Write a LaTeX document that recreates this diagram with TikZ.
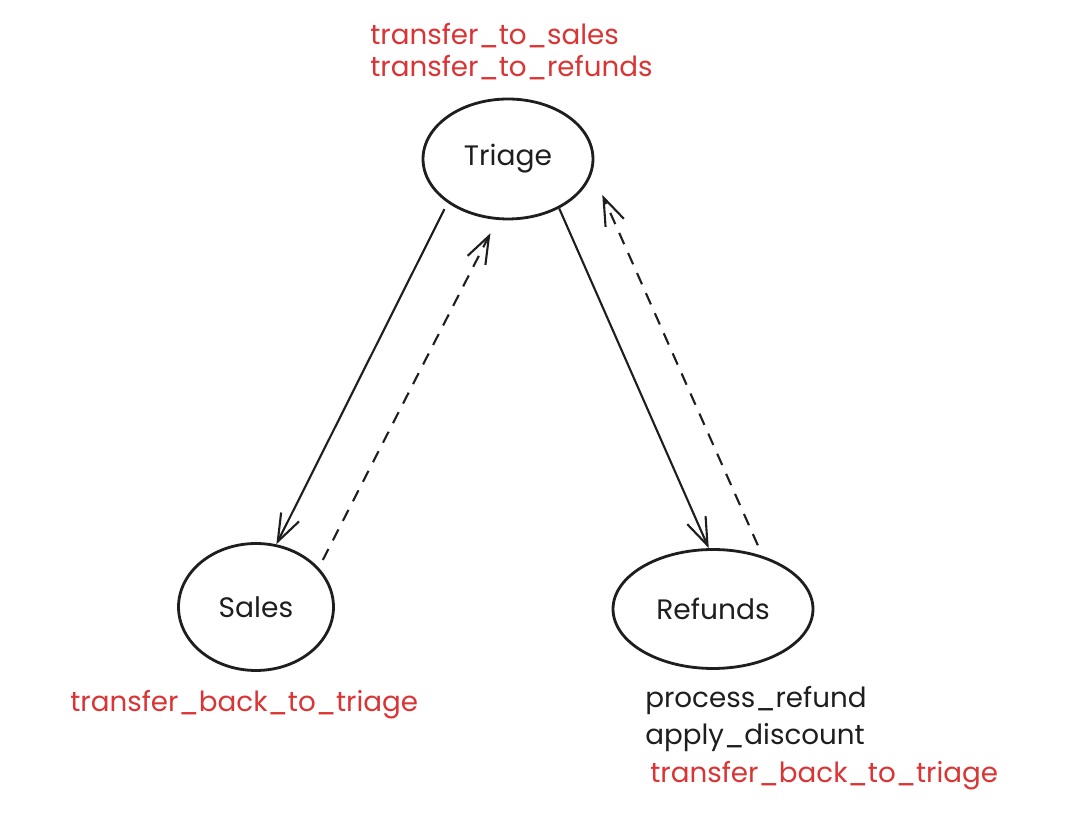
\documentclass[tikz,border=0pt]{standalone}
\usepackage{fontspec}
\setmainfont{Poppins}
\usepackage{xcolor}
\usetikzlibrary{shapes.geometric,arrows.meta}
\definecolor{tred}{RGB}{218,52,52}
\definecolor{ink}{RGB}{30,30,30}

\begin{document}
\begin{tikzpicture}[x=0.02cm,y=-0.02cm,
  agent/.style={ellipse,draw=ink,line width=1.6pt,inner sep=0pt,text=ink,font=\fontsize{16}{19}\selectfont},
  tool/.style={anchor=base west,inner sep=0pt,font=\fontsize{15.8}{19}\selectfont},
  handoff/.style={draw=ink,line width=1.2pt,-{Straight Barb[length=0.55cm,width=0.4cm]}},
  back/.style={handoff,dash pattern=on 7pt off 5.5pt}]
\useasboundingbox (0,0) rectangle (1080,830);
\node[agent,minimum width=3.4cm,minimum height=2.4cm] (triage) at (508,159) {Triage};
\node[agent,minimum width=3.1cm,minimum height=2.54cm] (sales) at (256,607) {Sales};
\node[agent,minimum width=4cm,minimum height=2.38cm] (refunds) at (713,609) {Refunds};
\draw [handoff,shorten <=4pt] (triage.216) -- (sales.72);
\draw [back,shorten <=5pt,shorten >=8.5pt] (sales.32) -- (triage.260);
\draw [handoff] (triage.316) -- (refunds.94);
\draw [back,shorten <=6.6pt,shorten >=14pt] (refunds.47) -- (triage.351);
\node[tool,text=tred] (tsales) at (370,45) {transfer\_to\_sales};
\node[tool,text=tred] (trefunds) at (370,77) {transfer\_to\_refunds};
\node[tool,text=tred] (sback) at (70,712) {transfer\_back\_to\_triage};
\node[tool,text=ink] (prefund) at (645,708) {process\_refund};
\node[tool,text=ink] (adiscount) at (645,745) {apply\_discount};
\node[tool,text=tred] (rback) at (650,783) {transfer\_back\_to\_triage};
\end{tikzpicture}
\end{document}
